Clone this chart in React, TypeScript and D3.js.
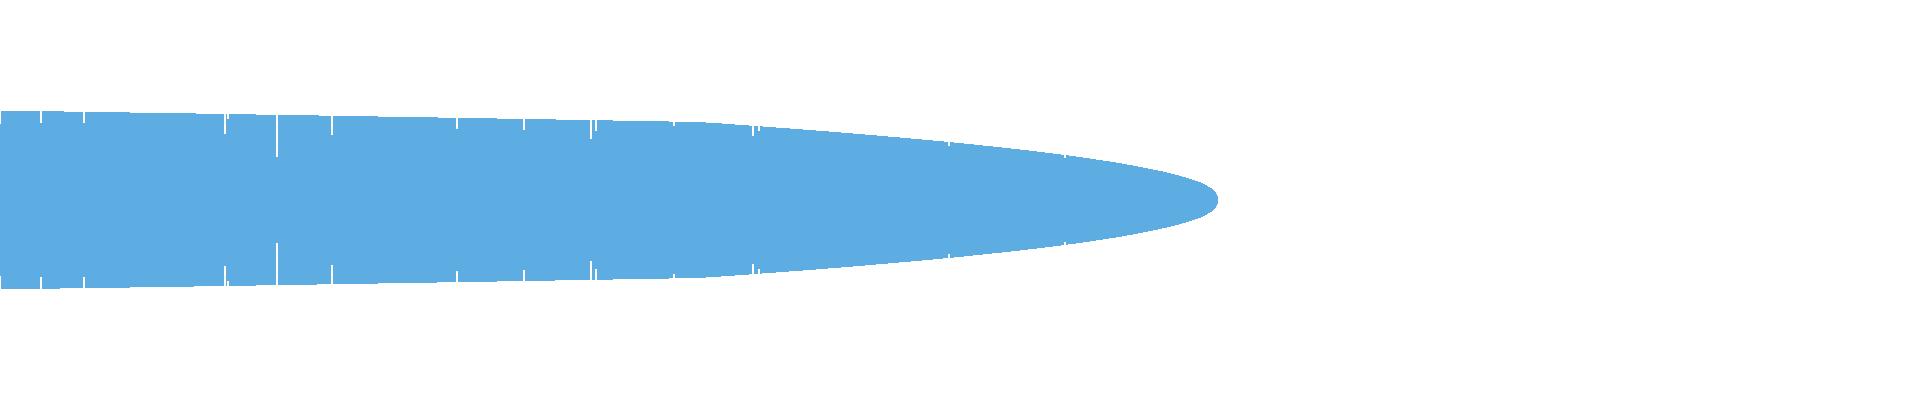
import { useEffect, useRef } from "react";
import * as d3 from "d3";

// outline of the shape: position along the axis and half-thickness
const ranks = [
  0, 1, 130, 256, 378, 497, 613, 669, 706, 735, 776, 816, 853, 888, 922, 954,
  983, 1011, 1037, 1061, 1083, 1103, 1122, 1138, 1153, 1167, 1179, 1189, 1198,
  1205, 1210, 1213, 1215, 1217, 1218,
];
const spread = [
  45, 89, 87.5, 85.5, 83.5, 81.5, 79.5, 78.5, 77.5, 75.5, 72.5, 69.5, 66.5,
  63.5, 60.5, 57.5, 54.5, 51.5, 48.5, 45.5, 42.5, 39.5, 36.5, 33.5, 30.5, 27.5,
  24.5, 21.5, 18.5, 15.5, 12.5, 10.5, 8.5, 5, 3,
];

// white gaps cut into the outline: position and how far in they stop
const gapRanks = [40, 83, 224, 226.7, 276, 331, 456, 523, 590, 595, 673, 752, 758, 948, 1064];
const gapSpread = [77, 77, 66, 81, 43, 65, 71, 70, 61, 69, 74, 64, 69, 54, 42];

export default function App() {
  const ref = useRef<SVGSVGElement | null>(null);

  useEffect(() => {
    if (!ref.current) return;
    const svg = d3.select(ref.current);
    svg.selectAll("*").remove();

    const x = d3.scaleLinear().domain([0, 1218]).range([0, 1218]);
    const y = d3.scaleLinear().domain([-100, 100]).range([300, 100]);

    const points = ranks.map((r, i) => ({ r, s: spread[i] }));

    const area = d3
      .area<{ r: number; s: number }>()
      .x((d) => x(d.r))
      .y0((d) => y(-d.s))
      .y1((d) => y(d.s))
      .curve(d3.curveMonotoneX);

    svg
      .append("path")
      .attr("d", area(points) || "")
      .attr("fill", "#5dade2")
      .attr("shape-rendering", "crispEdges");

    // MARK: gaps
    const gaps = gapRanks.map((r, i) => ({ r, s: gapSpread[i] }));
    const g = svg.append("g").attr("fill", "#ffffff").attr("shape-rendering", "crispEdges");

    g.selectAll("rect.top")
      .data(gaps)
      .join("rect")
      .attr("class", "top")
      .attr("x", (d) => x(d.r))
      .attr("width", 2)
      .attr("y", y(100))
      .attr("height", (d) => y(d.s) - y(100));

    g.selectAll("rect.bottom")
      .data(gaps)
      .join("rect")
      .attr("class", "bottom")
      .attr("x", (d) => x(d.r))
      .attr("width", 2)
      .attr("y", (d) => y(-d.s))
      .attr("height", (d) => y(-100) - y(-d.s));
  }, []);

  return (
    <svg
      ref={ref}
      width={1920}
      height={400}
      style={{ position: "absolute", left: 0, top: 0, display: "block", background: "#fff" }}
    />
  );
}
